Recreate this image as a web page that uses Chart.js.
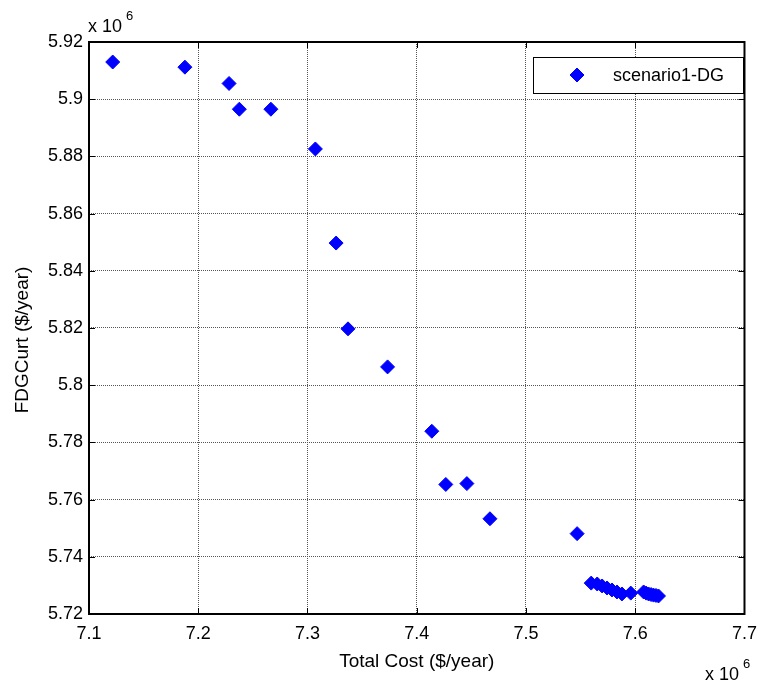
<!DOCTYPE html>
<html>
<head>
<meta charset="utf-8">
<script src="https://cdn.jsdelivr.net/npm/chart.js@4/dist/chart.umd.min.js"></script>
<style>
  html, body { margin: 0; padding: 0; background: #fff; }
  #wrap { width: 766px; height: 690px; }
</style>
</head>
<body>
<div id="wrap"><canvas id="pareto_chart" width="766" height="690"></canvas></div>
<script>
// values in units of 10^6
var costValues = [7.1217, 7.1878, 7.2282, 7.2376, 7.2665, 7.3072, 7.3262, 7.3371, 7.3733,
    7.4138, 7.4266, 7.4459, 7.4670, 7.5468,
    7.5597, 7.5652, 7.5697, 7.5742, 7.5787, 7.5833, 7.5878, 7.5959,
    7.6077, 7.6100, 7.6122, 7.6145, 7.6167, 7.6190, 7.6213];
var curtValues = [5.9130, 5.9112, 5.9055, 5.8965, 5.8965, 5.8826, 5.8497, 5.8197, 5.8064,
    5.7839, 5.7653, 5.7656, 5.7533, 5.7481,
    5.7308, 5.7305, 5.7298, 5.7291, 5.7284, 5.7277, 5.7270, 5.7273,
    5.7277, 5.7273, 5.7270, 5.7268, 5.7266, 5.7265, 5.7263];
var seriesName = 'scenario1-DG';
var xTitle = 'Total Cost ($/year)';
var yTitle = 'FDGCurt ($/year)';

document.addEventListener("DOMContentLoaded", function() {
    var ctx = document.getElementById('pareto_chart').getContext('2d');
    var fontName = '"Liberation Sans", Arial, sans-serif';

    var points = costValues.map(function(c, i) {
        return { x: c, y: curtValues[i] };
    });

    function matlabLabel(value) {
        return parseFloat(value.toFixed(2)).toString();
    }

    // box, inward ticks, exponent labels, axis titles and legend
    var matlabDecor = {
        id: 'matlabDecor',
        afterDraw: function(chart) {
            var c = chart.ctx;
            var a = chart.chartArea;
            var xs = chart.scales.x, ys = chart.scales.y;
            c.save();
            c.strokeStyle = '#000';
            c.lineWidth = 1;
            xs.ticks.forEach(function(t) {
                var px = Math.round(xs.getPixelForValue(t.value)) + 0.5;
                c.beginPath();
                c.moveTo(px, a.bottom); c.lineTo(px, a.bottom - 6);
                c.moveTo(px, a.top); c.lineTo(px, a.top + 6);
                c.stroke();
            });
            ys.ticks.forEach(function(t) {
                var py = Math.round(ys.getPixelForValue(t.value)) + 0.5;
                c.beginPath();
                c.moveTo(a.left, py); c.lineTo(a.left + 6, py);
                c.moveTo(a.right, py); c.lineTo(a.right - 6, py);
                c.stroke();
            });
            c.lineWidth = 2;
            c.strokeRect(a.left, a.top, a.right - a.left, a.bottom - a.top);

            c.fillStyle = '#000';
            c.textBaseline = 'alphabetic';
            c.textAlign = 'left';
            c.font = '18px ' + fontName;
            c.fillText('x 10', 88, 32);
            c.fillText('x 10', 705, 680);
            c.font = '13px ' + fontName;
            c.fillText('6', 126, 20);
            c.fillText('6', 743, 668);

            c.font = '19px ' + fontName;
            c.textAlign = 'center';
            c.textBaseline = 'middle';
            c.fillText(xTitle, (a.left + a.right) / 2, 662);
            c.save();
            c.translate(23, 340);
            c.rotate(-Math.PI / 2);
            c.fillText(yTitle, 0, 0);
            c.restore();

            // legend
            c.fillStyle = '#fff';
            c.fillRect(533, 57, 210, 36);
            c.lineWidth = 1;
            c.strokeStyle = '#000';
            c.strokeRect(533.5, 57.5, 210, 36);
            c.fillStyle = '#0000ff';
            c.strokeStyle = '#0000ff';
            Chart.helpers.drawPoint(c, {
                pointStyle: 'rectRot', radius: 7, borderWidth: 1
            }, 577, 75);
            c.fill();
            c.fillStyle = '#000';
            c.textAlign = 'left';
            c.font = '18px ' + fontName;
            c.fillText(seriesName, 613, 76);
            c.restore();
        }
    };

    new Chart(ctx, {
        type: 'scatter',
        data: {
            datasets: [{
                label: seriesName,
                data: points,
                pointStyle: 'rectRot',
                pointRadius: 7,
                pointHoverRadius: 7,
                backgroundColor: '#0000ff',
                borderColor: '#0000ff',
                borderWidth: 1
            }]
        },
        options: {
            responsive: false,
            animation: false,
            layout: { padding: { left: 0, top: 42, right: 13, bottom: 0 } },
            plugins: {
                legend: { display: false },
                tooltip: { enabled: false }
            },
            scales: {
                x: {
                    type: 'linear',
                    min: 7.1,
                    max: 7.7,
                    border: { display: false, dash: [1, 1] },
                    grid: { color: '#555', drawTicks: false, lineWidth: 1 },
                    ticks: {
                        stepSize: 0.1,
                        padding: 9,
                        color: '#000',
                        font: { size: 18, family: fontName },
                        maxRotation: 0,
                        callback: function(v) { return matlabLabel(v); }
                    },
                    afterFit: function(scale) { scale.height = 76; }
                },
                y: {
                    type: 'linear',
                    min: 5.72,
                    max: 5.92,
                    border: { display: false, dash: [1, 1] },
                    grid: { color: '#555', drawTicks: false, lineWidth: 1 },
                    ticks: {
                        stepSize: 0.02,
                        padding: 6,
                        color: '#000',
                        font: { size: 18, family: fontName },
                        callback: function(v) { return matlabLabel(v); }
                    },
                    afterFit: function(scale) { scale.width = 89; }
                }
            }
        },
        plugins: [matlabDecor]
    });
});
</script>
</body>
</html>
